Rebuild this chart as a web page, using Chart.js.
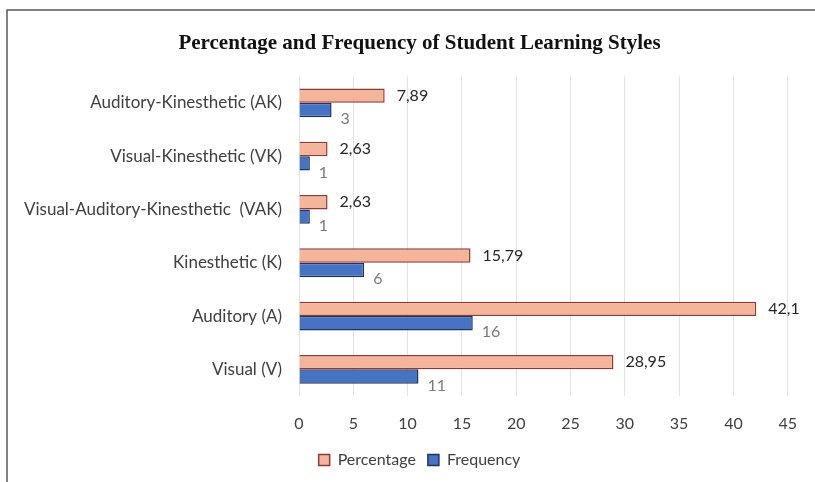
<!DOCTYPE html>
<html>
<head>
<meta charset="utf-8">
<script src="https://cdn.jsdelivr.net/npm/chart.js@4/dist/chart.umd.min.js"></script>
<style>
  html, body { margin: 0; padding: 0; background: #fff; }
  #wrap { width: 815px; height: 482px; position: relative; }
</style>
</head>
<body>
<div id="wrap"><canvas id="chart"></canvas></div>
<script>
var categories = [
  'Auditory-Kinesthetic (AK)',
  'Visual-Kinesthetic (VK)',
  'Visual-Auditory-Kinesthetic  (VAK)',
  'Kinesthetic (K)',
  'Auditory (A)',
  'Visual (V)'
];
var percentage = [7.89, 2.63, 2.63, 15.79, 42.1, 28.95];
var frequency = [3, 1, 1, 6, 16, 11];
var xTicks = [0, 5, 10, 15, 20, 25, 30, 35, 40, 45];

function fmt(v) {
  return String(v).replace('.', ',');
}

var frame = {
  id: 'frame',
  beforeDraw: function (chart) {
    var ctx = chart.ctx;
    ctx.save();
    ctx.fillStyle = '#fff';
    ctx.fillRect(0, 0, chart.width, chart.height);
    ctx.strokeStyle = '#5a5a5a';
    ctx.lineWidth = 1.5;
    ctx.beginPath();
    ctx.moveTo(7, chart.height);
    ctx.lineTo(7, 10);
    ctx.lineTo(chart.width, 10);
    ctx.stroke();
    ctx.restore();
  }
};

// title and legend sit a bit right of the canvas centre in the original
var shiftBoxes = {
  id: 'shiftBoxes',
  afterLayout: function (chart) {
    var dx = 20;
    [chart.titleBlock, chart.legend].forEach(function (b) {
      if (!b) return;
      b.left += dx;
      b.right += dx;
    });
  }
};

var valueLabels = {
  id: 'valueLabels',
  afterDatasetsDraw: function (chart) {
    var ctx = chart.ctx;
    ctx.save();
    ctx.font = '16px Lato, sans-serif';
    ctx.textBaseline = 'middle';
    ctx.textAlign = 'left';
    chart.data.datasets.forEach(function (ds, i) {
      var meta = chart.getDatasetMeta(i);
      meta.data.forEach(function (bar, j) {
        if (i === 0) {
          ctx.fillStyle = '#262626';
          ctx.fillText(fmt(ds.data[j]), bar.x + 12, bar.y);
        } else {
          ctx.fillStyle = '#7a7a7a';
          ctx.fillText(fmt(ds.data[j]), bar.x + 9, bar.y + 9);
        }
      });
    });
    ctx.restore();
  }
};

new Chart(document.getElementById('chart'), {
  type: 'bar',
  data: {
    labels: categories,
    datasets: [{
      label: 'Percentage',
      data: percentage,
      backgroundColor: '#F5B59A',
      borderColor: '#8E3B36',
      borderWidth: 1.5,
      borderSkipped: 'left',
      categoryPercentage: 0.54,
      barPercentage: 1.0
    }, {
      label: 'Frequency',
      data: frequency,
      backgroundColor: '#4673C3',
      borderColor: '#1F3560',
      borderWidth: 1.5,
      borderSkipped: 'left',
      categoryPercentage: 0.54,
      barPercentage: 1.0
    }]
  },
  options: {
    indexAxis: 'y',
    responsive: true,
    maintainAspectRatio: false,
    animation: false,
    layout: { padding: { left: 10, right: 26, top: 20, bottom: 4 } },
    plugins: {
      title: {
        display: true,
        text: 'Percentage and Frequency of Student Learning Styles',
        color: '#111',
        font: { family: '"Liberation Serif", "Times New Roman", serif', size: 21, weight: 'bold' },
        padding: { top: 11, bottom: 20 }
      },
      legend: {
        position: 'bottom',
        labels: {
          boxWidth: 11,
          boxHeight: 11,
          padding: 12,
          color: '#404040',
          font: { family: 'Lato, sans-serif', size: 16 }
        }
      },
      tooltip: { enabled: false }
    },
    scales: {
      x: {
        min: 0,
        max: 45,
        afterBuildTicks: function (scale) {
          scale.ticks = xTicks.map(function (v) { return { value: v }; });
        },
        afterFit: function (scale) { scale.height = 44; },
        grid: { color: '#e4e4e4', drawTicks: false },
        border: { display: false },
        ticks: { padding: 18, color: '#404040', font: { family: 'Lato, sans-serif', size: 16 } }
      },
      y: {
        afterFit: function (scale) { scale.width = 289; },
        grid: { display: false, drawTicks: false },
        border: { display: false },
        ticks: { padding: 17, color: '#404040', font: { family: 'Lato, sans-serif', size: 17 } }
      }
    }
  },
  plugins: [frame, shiftBoxes, valueLabels]
});
</script>
</body>
</html>
